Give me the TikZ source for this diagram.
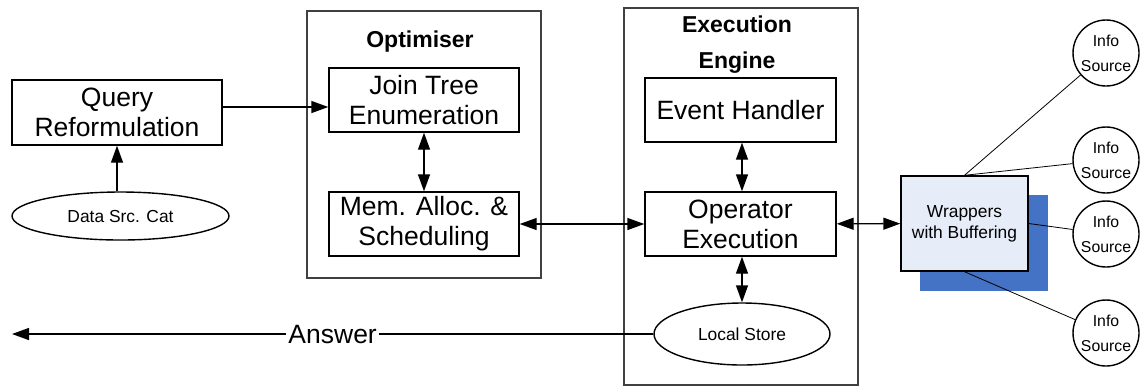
\documentclass[tikz,border=0pt]{standalone}
\usepackage{fontspec}
\setmainfont{Liberation Sans}
\usetikzlibrary{shapes.geometric,arrows.meta,positioning,calc}

\definecolor{wrapblue}{RGB}{230,236,248}
\definecolor{shadowblue}{RGB}{68,114,196}

\begin{document}
\begin{tikzpicture}[x=0.5pt,y=-0.5pt,
    box/.style={draw, line width=0.7pt, inner sep=0pt, align=center, font=\fontsize{13.25}{15}\selectfont},
    outer/.style={draw=black!75, line width=0.9pt},
    title/.style={font=\bfseries\fontsize{11.5}{18}\selectfont, align=center},
    small/.style={draw, ellipse, line width=0.7pt, inner sep=0pt, font=\fontsize{8.7}{10}\selectfont},
    info/.style={draw, circle, line width=0.7pt, minimum size=33pt, inner sep=0pt, align=center, font=\fontsize{7.9}{12.5}\selectfont},
    arr/.style={-{Triangle[length=8.5pt,width=6pt]}, line width=0.7pt},
    darr/.style={{Triangle[length=8.5pt,width=6pt]}-{Triangle[length=8.5pt,width=6pt]}, line width=0.7pt}]

    \useasboundingbox (0,0) rectangle (1145,388);

    % query side
    \node[box, minimum width=105pt, minimum height=32.5pt] (query) at (117,112.5) {Query\\Reformulation};
    \node[small, minimum width=108.5pt, minimum height=24pt] (dsc) at (120.5,216) {Data Src. Cat};

    % Optimiser
    \draw[outer] (307,11) rectangle (541,278);
    \node[title] (opttitle) at (420,42) {Optimiser};
    \node[box, minimum width=95pt, minimum height=32pt] (join) at (424,100) {Join Tree\\Enumeration};
    \node[box, minimum width=95pt, minimum height=32pt] (mem) at (424,224) {Mem. Alloc. \&\\Scheduling};

    % Execution engine
    \draw[outer] (624,8) rectangle (858,385);
    \node[title] (exetitle) at (737,45) {Execution\\Engine};
    \node[box, minimum width=95.5pt, minimum height=32pt] (event) at (740.5,110) {Event Handler};
    \node[box, minimum width=95.5pt, minimum height=32pt] (opex) at (740.5,224) {Operator\\Execution};
    \node[small, minimum width=88pt, minimum height=31pt] (store) at (742,334) {Local Store};

    % wrappers and sources
    \fill[shadowblue] (920,195) rectangle (1048,291);
    \node[box, fill=wrapblue, minimum width=63.5pt, minimum height=47.5pt, font=\fontsize{8.7}{10.5}\selectfont] (wrap) at (964.5,223.5) {Wrappers\\with Buffering};
    \foreach \y/\n in {53/1,160/2,234/3,333/4}
        \node[info] (info\n) at (1106,\y) {Info\\Source};

    % connectors
    \draw[arr] (query.south |- dsc.north) -- (query.south);
    \draw[arr] ([yshift=2.75pt]query.east) -- ([yshift=2.75pt]query.east -| join.west);
    \draw[darr] (join) -- (mem);
    \draw[darr] (mem) -- (opex);
    \draw[darr] (event.south -| store.north) -- (opex.north -| store.north);
    \draw[darr] (opex.south -| store.north) -- (store.north);
    \draw[darr] (opex) -- (wrap);
    \draw (wrap.north) -- (info1);
    \draw (wrap.north) -- (info2);
    \draw (wrap.east) -- (info3);
    \draw (wrap.south) -- (info4);
    \coordinate (ans) at (12,334);
    \draw[arr] (store.west) -- node[fill=white, inner sep=1pt, font=\fontsize{13.25}{15}\selectfont] {Answer} (ans);
\end{tikzpicture}
\end{document}
